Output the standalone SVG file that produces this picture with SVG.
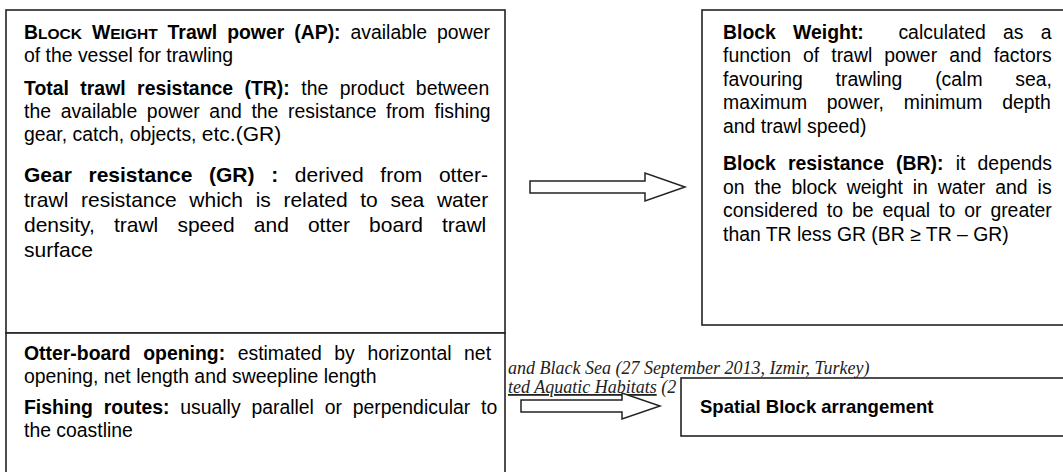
<svg xmlns="http://www.w3.org/2000/svg" width="1063" height="472" viewBox="0 0 1063 472">
<style>
text{font-family:"Liberation Sans",Arial,sans-serif;font-size:19.4px;fill:#000}
.b{font-weight:bold}
.sc{font-size:15.5px}
.g{font-size:21px}
.sp{font-size:18.5px;font-weight:bold}
.box{fill:#fff;stroke:#222;stroke-width:1.6}
.arr{fill:#fff;stroke:#222;stroke-width:1.5;stroke-linejoin:miter}
.stray{font-family:"Liberation Serif","Times New Roman",serif;font-style:italic;font-size:18px;fill:#222}
</style>
<rect width="1063" height="472" fill="#fff"/>
<g id="stray-text">
<text class="stray" x="508" y="374">and Black Sea (27 September 2013, Izmir, Turkey)</text>
<text class="stray" x="508" y="393"><tspan text-decoration="underline">ted Aquatic Habitats</tspan> (2</text>
</g>
<g id="node-gear">
<rect class="box" x="6" y="10" width="499" height="323"/>
<text x="24" y="38.5" style="word-spacing:4.6px"><tspan class="b">B<tspan class="sc">LOCK</tspan> W<tspan class="sc">EIGHT</tspan> Trawl power (AP):</tspan> available power</text>
<text x="24" y="61.5">of the vessel for trawling</text>
<text x="24" y="95" style="word-spacing:6.1px"><tspan class="b">Total trawl resistance (TR):</tspan> the product between</text>
<text x="24" y="118" style="word-spacing:4.3px">the available power and the resistance from fishing</text>
<text x="24" y="141">gear, catch, objects, <tspan class="g">etc.(GR)</tspan></text>
<text class="g" x="24" y="182" style="word-spacing:10.8px"><tspan class="b">Gear resistance (GR) :</tspan> derived from otter-</text>
<text class="g" x="24" y="207" style="word-spacing:6.8px">trawl resistance which is related to sea water</text>
<text class="g" x="24" y="232" style="word-spacing:13.3px">density, trawl speed and otter board trawl</text>
<text class="g" x="24" y="257">surface</text>
</g>
<g id="node-otter">
<rect class="box" x="6" y="333" width="499" height="150"/>
<text x="24" y="360" style="word-spacing:7.2px"><tspan class="b">Otter-board opening:</tspan> estimated by horizontal net</text>
<text x="24" y="383">opening, net length and sweepline length</text>
<text x="24" y="414" style="word-spacing:5.4px"><tspan class="b">Fishing routes:</tspan> usually parallel or perpendicular to</text>
<text x="24" y="437">the coastline</text>
</g>
<g id="node-block">
<rect class="box" x="702" y="10" width="370" height="315"/>
<text x="723" y="38.5" style="word-spacing:11.9px"><tspan class="b">Block Weight:</tspan><tspan dx="17.3"> calculated as a</tspan></text>
<text x="723" y="62" style="word-spacing:6.7px">function of trawl power and factors</text>
<text x="723" y="85.5" style="word-spacing:27.4px">favouring trawling (calm sea,</text>
<text x="723" y="109" style="word-spacing:14.4px">maximum power, minimum depth</text>
<text x="723" y="132.5">and trawl speed)</text>
<text x="723" y="170" style="word-spacing:6.8px"><tspan class="b">Block resistance (BR):</tspan> it depends</text>
<text x="723" y="193.5" style="word-spacing:4.6px">on the block weight in water and is</text>
<text x="723" y="217" style="word-spacing:3.6px">considered to be equal to or greater</text>
<text x="723" y="240.5">than TR less GR (BR ≥ TR – GR)</text>
</g>
<g id="connectors">
<polygon class="arr" points="530,181 645,181 645,173 685,187 645,201 645,193 530,193"/>
<polygon class="arr" points="521,400 622,400 622,393 660,406 622,419 622,412 521,412"/>
</g>
<g id="node-spatial">
<rect class="box" x="681" y="378" width="390" height="58"/>
<text class="sp" x="700" y="413">Spatial Block arrangement</text>
</g>
</svg>
